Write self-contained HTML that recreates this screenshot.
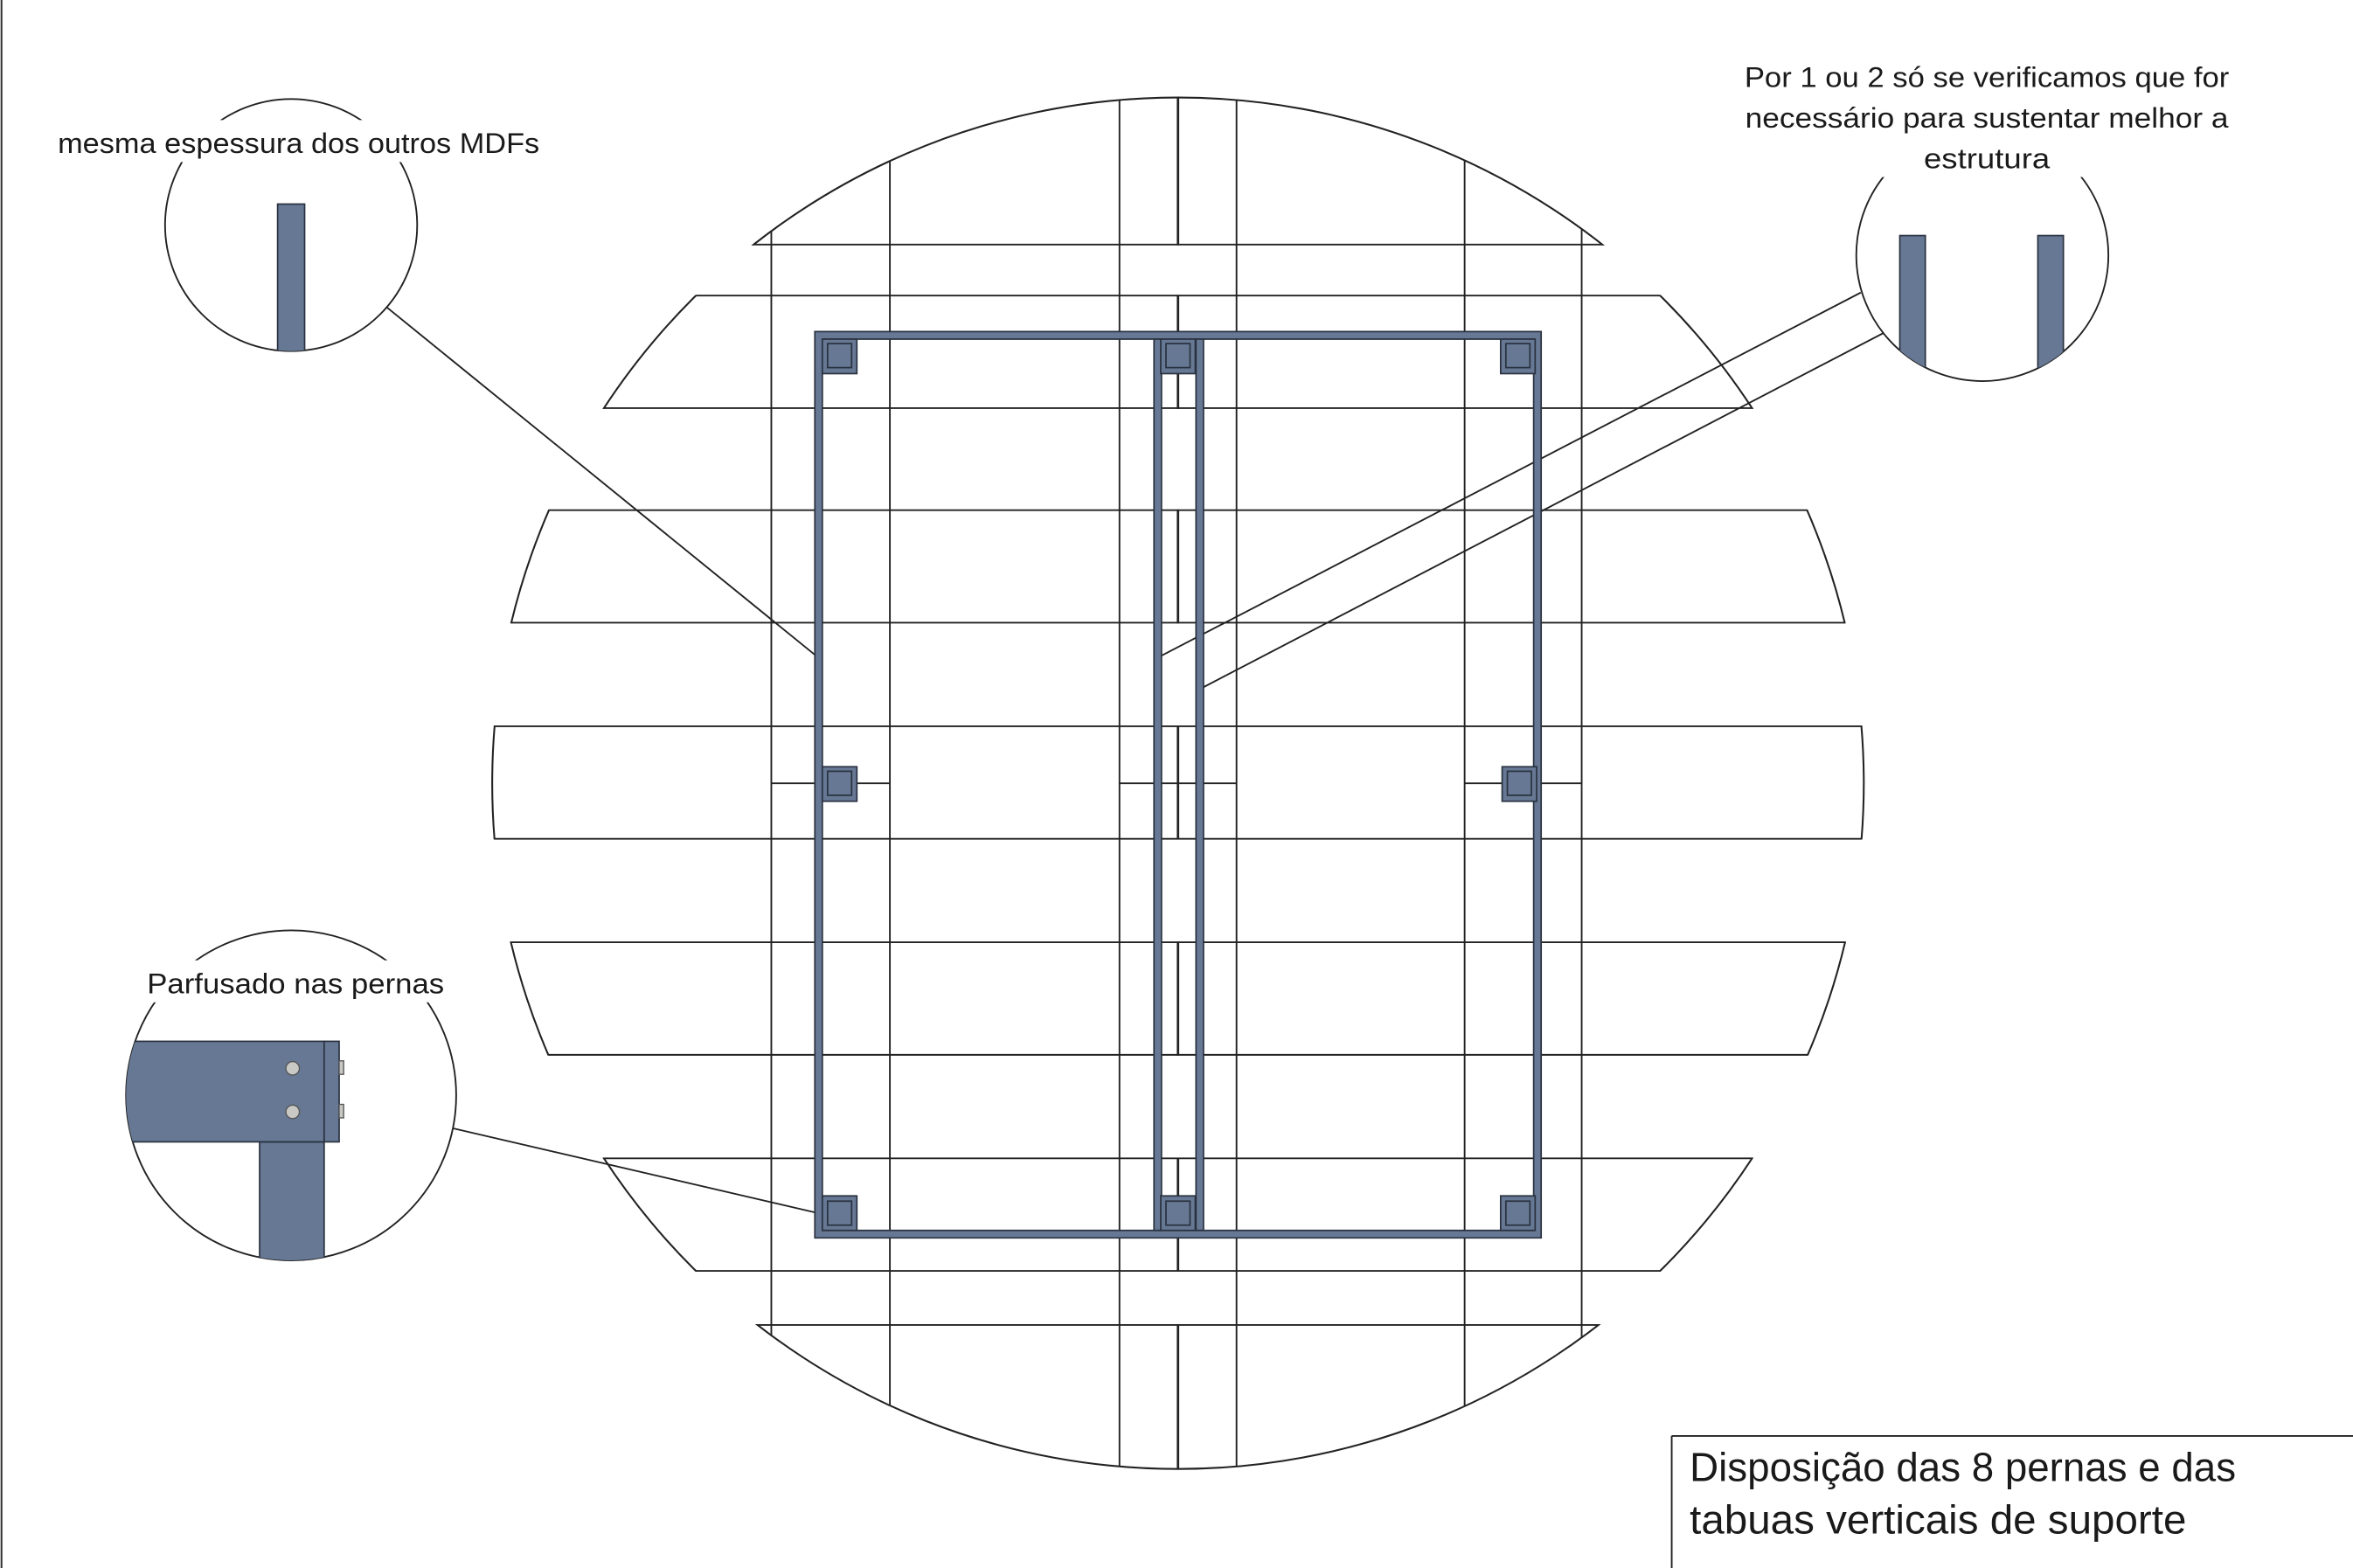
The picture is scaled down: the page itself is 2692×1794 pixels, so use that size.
<!DOCTYPE html>
<html><head><meta charset="utf-8"><style>
html,body{margin:0;padding:0;background:#fff;}
svg{display:block;}
text{font-family:"Liberation Sans",sans-serif;fill:#1a1a1a;}
</style></head><body>
<svg width="2692" height="1794" viewBox="0 0 1568 1045" preserveAspectRatio="none" xmlns="http://www.w3.org/2000/svg">
<defs>
<clipPath id="circ"><circle cx="785" cy="522" r="457"/></clipPath>
<clipPath id="bands">
<rect x="0" y="60" width="1568" height="103.5"/>
<rect x="0" y="196.5" width="1568" height="76"/>
<rect x="0" y="339.5" width="1568" height="76"/>
<rect x="0" y="483.5" width="1568" height="76"/>
<rect x="0" y="627.5" width="1568" height="76"/>
<rect x="0" y="771.5" width="1568" height="76"/>
<rect x="0" y="882.5" width="1568" height="103"/>
</clipPath>
<clipPath id="c1"><circle cx="194" cy="150" r="84"/></clipPath>
<clipPath id="c2"><circle cx="1321" cy="170" r="84"/></clipPath>
<clipPath id="c3"><circle cx="194" cy="730" r="110"/></clipPath>
</defs>
<rect width="1568" height="1045" fill="#fff"/>
<line x1="1" y1="0" x2="1" y2="1045" stroke="#333" stroke-width="1.2"/>

<g clip-path="url(#bands)">
<circle cx="785" cy="522" r="457" fill="none" stroke="#222" stroke-width="1.2"/>
</g>
<g clip-path="url(#circ)" stroke="#222" stroke-width="1.1" fill="none">
<line x1="0" y1="163" x2="1568" y2="163"/>
<line x1="0" y1="197" x2="1568" y2="197"/>
<line x1="0" y1="272" x2="1568" y2="272"/>
<line x1="0" y1="340" x2="1568" y2="340"/>
<line x1="0" y1="415" x2="1568" y2="415"/>
<line x1="0" y1="484" x2="1568" y2="484"/>
<line x1="0" y1="559" x2="1568" y2="559"/>
<line x1="0" y1="628" x2="1568" y2="628"/>
<line x1="0" y1="703" x2="1568" y2="703"/>
<line x1="0" y1="772" x2="1568" y2="772"/>
<line x1="0" y1="847" x2="1568" y2="847"/>
<line x1="0" y1="883" x2="1568" y2="883"/>
<line x1="514" y1="0" x2="514" y2="1045"/>
<line x1="593" y1="0" x2="593" y2="1045"/>
<line x1="746" y1="0" x2="746" y2="1045"/>
<line x1="824" y1="0" x2="824" y2="1045"/>
<line x1="976" y1="0" x2="976" y2="1045"/>
<line x1="1054" y1="0" x2="1054" y2="1045"/>
<line x1="514" y1="522" x2="593" y2="522"/>
<line x1="746" y1="522" x2="824" y2="522"/>
<line x1="976" y1="522" x2="1054" y2="522"/>
<g clip-path="url(#bands)">
<line x1="785" y1="0" x2="785" y2="1045" stroke-width="1.6"/>
</g>
</g>

<g stroke="#222" stroke-width="1.1">
<line x1="258" y1="205" x2="545" y2="438"/>
<line x1="1240" y1="195" x2="772" y2="438"/>
<line x1="1255" y1="222" x2="800" y2="459"/>
<line x1="302" y1="752" x2="543" y2="808"/>
</g>

<g fill="#667893" stroke="#2a3240" stroke-width="1">
<path fill-rule="evenodd" d="M543 221H1027V825H543Z M548 226V820H1022V226Z"/>
<rect x="769" y="226" width="5" height="594"/>
<rect x="797" y="226" width="5" height="594"/>
<g>
<rect x="548" y="226" width="23" height="23"/><rect x="551.5" y="229" width="16" height="16"/>
<rect x="773.5" y="226" width="23" height="23"/><rect x="777" y="229" width="16" height="16"/>
<rect x="1000" y="226" width="23" height="23"/><rect x="1003.5" y="229" width="16" height="16"/>
<rect x="548" y="511" width="23" height="23"/><rect x="551.5" y="514" width="16" height="16"/>
<rect x="1001" y="511" width="23" height="23"/><rect x="1004.5" y="514" width="16" height="16"/>
<rect x="548" y="797" width="23" height="23"/><rect x="551.5" y="800.5" width="16" height="16"/>
<rect x="773.5" y="797" width="23" height="23"/><rect x="777" y="800.5" width="16" height="16"/>
<rect x="1000" y="797" width="23" height="23"/><rect x="1003.5" y="800.5" width="16" height="16"/>
</g>
</g>

<circle cx="194" cy="150" r="84" fill="#fff" stroke="#222" stroke-width="1.1"/>
<g clip-path="url(#c1)"><rect x="185" y="136" width="18" height="110" fill="#667893" stroke="#2a3240"/></g>
<rect x="100" y="80" width="190" height="28" fill="#fff"/>
<text x="199" y="102" font-size="19" text-anchor="middle" textLength="321" lengthAdjust="spacingAndGlyphs">mesma espessura dos outros MDFs</text>

<circle cx="1321" cy="170" r="84" fill="#fff" stroke="#222" stroke-width="1.1"/>
<g clip-path="url(#c2)" fill="#667893" stroke="#2a3240">
<rect x="1266" y="157" width="17" height="110"/>
<rect x="1358" y="157" width="17" height="110"/>
</g>
<rect x="1236" y="40" width="170" height="78" fill="#fff"/>
<text x="1324" y="58" font-size="19" text-anchor="middle" textLength="323" lengthAdjust="spacingAndGlyphs">Por 1 ou 2 só se verificamos que for</text>
<text x="1324" y="85" font-size="19" text-anchor="middle" textLength="322" lengthAdjust="spacingAndGlyphs">necessário para sustentar melhor a</text>
<text x="1324" y="112" font-size="19" text-anchor="middle" textLength="84" lengthAdjust="spacingAndGlyphs">estrutura</text>

<circle cx="194" cy="730" r="110" fill="#fff" stroke="#222" stroke-width="1.1"/>
<g clip-path="url(#c3)" fill="#667893" stroke="#2a3240" stroke-width="1">
<rect x="173" y="761" width="43" height="100"/>
<rect x="70" y="694" width="146" height="67"/>
</g>
<g fill="#667893" stroke="#2a3240" stroke-width="1">
<rect x="216" y="694" width="10" height="67"/>
</g>
<g fill="#c8c8c4" stroke="#555" stroke-width="0.8">
<rect x="226" y="707" width="3" height="9"/>
<rect x="226" y="736" width="3" height="9"/>
<circle cx="195" cy="712" r="4.5"/>
<circle cx="195" cy="741" r="4.5"/>
</g>
<rect x="90" y="640" width="215" height="28" fill="#fff"/>
<text x="197" y="662" font-size="19" text-anchor="middle" textLength="198" lengthAdjust="spacingAndGlyphs">Parfusado nas pernas</text>

<g stroke="#222" stroke-width="1.1">
<line x1="1114" y1="957" x2="1568" y2="957"/>
<line x1="1114" y1="957" x2="1114" y2="1045"/>
</g>
<text x="1126" y="987" font-size="27" textLength="364" lengthAdjust="spacingAndGlyphs">Disposição das 8 pernas e das</text>
<text x="1126" y="1022" font-size="27" textLength="331" lengthAdjust="spacingAndGlyphs">tabuas verticais de suporte</text>
</svg>
</body></html>
